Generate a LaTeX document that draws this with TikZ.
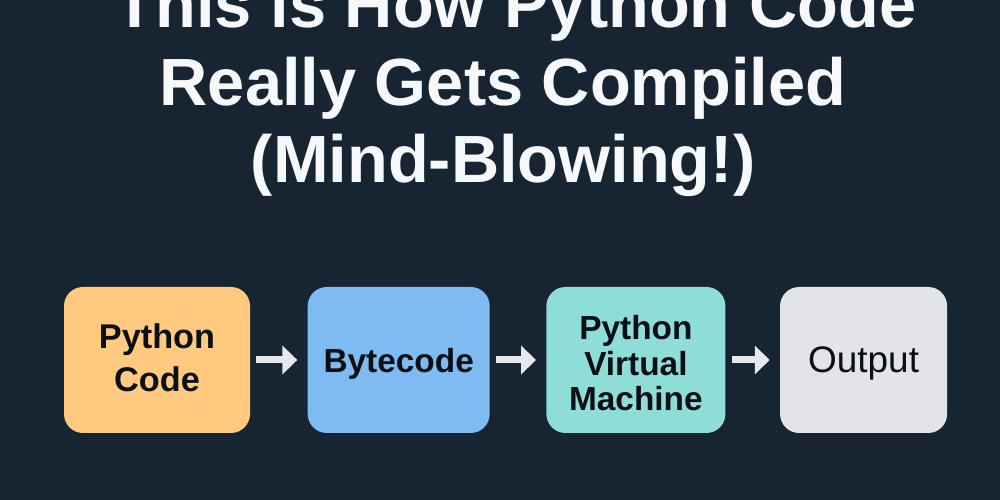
\documentclass[tikz,border=0pt]{standalone}
\usepackage{xcolor}
\usepackage{fontspec}
\setmainfont{Liberation Sans}
\usepackage{tikz}
\usetikzlibrary{positioning,arrows.meta}
\definecolor{bgdark}{HTML}{172431}
\definecolor{codeorange}{HTML}{FFC97F}
\definecolor{bytecodeblue}{HTML}{7DBBF2}
\definecolor{vmteal}{HTML}{8FDDD9}
\definecolor{outputgray}{HTML}{E3E4E9}
\definecolor{arrowgray}{HTML}{E6E8EE}
\definecolor{labelblack}{HTML}{0A0F14}
\definecolor{titlewhite}{HTML}{F7F8FA}
\tikzset{
    stagebox/.style={rounded corners=0.38cm, minimum height=2.92cm, align=center, inner sep=0, text=labelblack, font=\fontsize{19}{20}\selectfont\bfseries},
    flowarrow/.style={draw=arrowgray, line width=0.14cm, -{Triangle[length=0.3cm, width=0.56cm]}, shorten <=0.12cm, shorten >=0.2cm}
}
\begin{document}
\begin{tikzpicture}[align=center]
    \fill [bgdark] (0,0) rectangle (20,10);
    \useasboundingbox (0,0) rectangle (20,10);
    \clip (0,0) rectangle (20,10);

    \node [font=\fontsize{38}{44}\selectfont\bfseries, text=titlewhite, inner sep=0] (title) at (10.06,8.24) {\hspace*{0.5cm}This is How Python Code\\Really Gets Compiled\\(Mind-Blowing!)};

    \node [stagebox, fill=codeorange, minimum width=3.72cm, font=\fontsize{19.5}{20}\selectfont\bfseries] (python_code) at (3.14,2.8) {\rule{0pt}{15pt}Python\\[4.5pt]Code\rule[-4pt]{0pt}{0pt}};
    \node [stagebox, fill=bytecodeblue, minimum width=3.64cm, right=1.14cm of python_code] (bytecode) {\rule{0pt}{18.6pt}Bytecode};
    \node [stagebox, fill=vmteal, minimum width=3.58cm, right=1.12cm of bytecode] (virtual_machine) {\rule{0pt}{17.4pt}Python\\Virtual\\Machine};
    \node [stagebox, fill=outputgray, minimum width=3.34cm, right=1.08cm of virtual_machine, font=\fontsize{21}{20}\selectfont] (output) {\rule{0pt}{18.6pt}Output};

    \draw [flowarrow] (python_code) -- (bytecode);
    \draw [flowarrow] (bytecode) -- (virtual_machine);
    \draw [flowarrow] (virtual_machine) -- (output);
\end{tikzpicture}
\end{document}
